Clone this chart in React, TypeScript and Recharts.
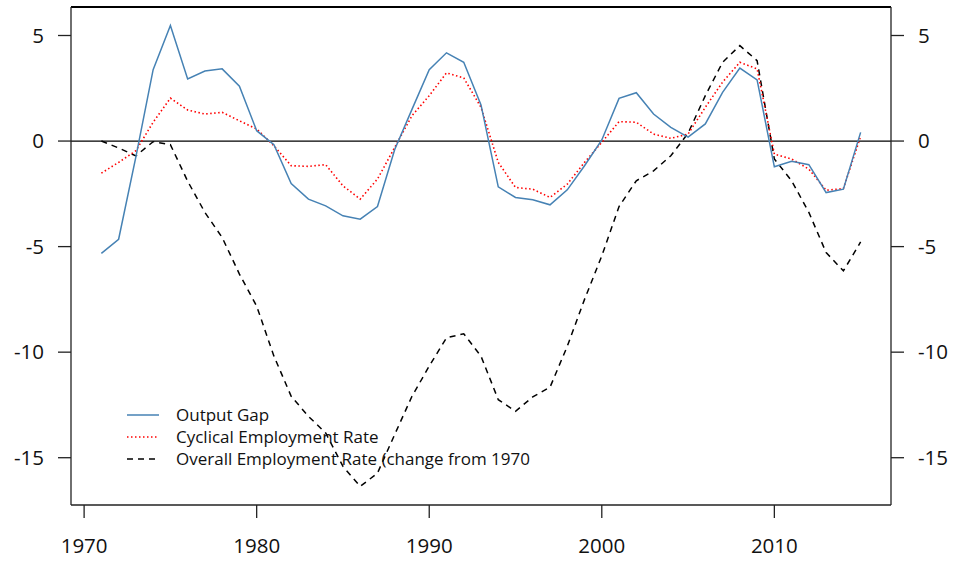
import React from 'react';
import { LineChart, Line, XAxis, YAxis, ReferenceLine, Legend } from 'recharts';

const years = [1971,1972,1973,1974,1975,1976,1977,1978,1979,1980,1981,1982,1983,1984,1985,1986,1987,1988,1989,1990,1991,1992,1993,1994,1995,1996,1997,1998,1999,2000,2001,2002,2003,2004,2005,2006,2007,2008,2009,2010,2011,2012,2013,2014,2015];

const outputGap = [-5.32,-4.65,-0.75,3.38,5.47,2.94,3.32,3.42,2.6,0.49,-0.17,-2.01,-2.75,-3.07,-3.54,-3.7,-3.1,-0.4,1.5,3.38,4.18,3.73,1.71,-2.17,-2.67,-2.78,-3.02,-2.31,-1.17,0.05,2.02,2.29,1.28,0.65,0.19,0.81,2.31,3.46,2.9,-1.22,-0.96,-1.12,-2.44,-2.28,0.41];

const cyclicalEmp = [-1.52,-1.01,-0.46,0.89,2.03,1.47,1.28,1.36,0.96,0.57,-0.22,-1.17,-1.2,-1.12,-2.12,-2.75,-1.8,-0.3,1.2,2.15,3.23,2.99,1.6,-1.01,-2.2,-2.28,-2.67,-2.04,-1.01,-0.06,0.92,0.89,0.33,0.13,0.33,1.6,2.79,3.73,3.42,-0.62,-0.85,-1.33,-2.33,-2.25,0.22];

const overallEmp = [0,-0.33,-0.7,-0.03,-0.17,-1.9,-3.38,-4.57,-6.3,-7.82,-10.19,-12.09,-13.04,-13.83,-15.41,-16.36,-15.73,-13.9,-12.09,-10.66,-9.32,-9.13,-10.19,-12.25,-12.8,-12.12,-11.66,-9.72,-7.5,-5.44,-3.1,-1.88,-1.41,-0.7,0.37,2.15,3.73,4.52,3.81,-0.85,-1.88,-3.38,-5.28,-6.15,-4.78];

const xTicks = [1970, 1980, 1990, 2000, 2010];
const yTicks = [-15, -10, -5, 0, 5];

const seriesNames = ['Output Gap', 'Cyclical Employment Rate', 'Overall Employment Rate (change from 1970'];

const data = years.map((y, i) => ({
  year: y,
  gap: outputGap[i],
  cyc: cyclicalEmp[i],
  ovr: overallEmp[i],
}));

const Y_MIN = -17.24;
const Y_MAX = 6.35;
const X_DOMAIN: [number, number] = [1969.24, 2016.76];

const FONT = '"Open Sans", "Noto Sans", sans-serif';
const AXIS = '#222';

const legendItems = [
  { name: seriesNames[0], color: 'steelblue', dash: undefined as string | undefined },
  { name: seriesNames[1], color: '#ff0000', dash: '1.5 2.5' },
  { name: seriesNames[2], color: '#000', dash: '6 5' },
];

const LegendContent = () => (
  <div style={{ fontFamily: FONT, fontSize: 17, color: '#111', lineHeight: '22px' }}>
    {legendItems.map((it) => (
      <div key={it.name} style={{ display: 'flex', alignItems: 'center', height: 22, whiteSpace: 'nowrap' }}>
        <svg width={49} height={22} style={{ display: 'block' }}>
          <line x1={0} y1={11} x2={32} y2={11} stroke={it.color} strokeWidth={1.5} strokeDasharray={it.dash} />
        </svg>
        <span>{it.name}</span>
      </div>
    ))}
  </div>
);

export default function App() {
  return (
    <div style={{ position: 'absolute', left: 0, top: 0, width: 956, height: 562, background: '#fff', fontFamily: FONT }}>
      <LineChart
        width={956}
        height={562}
        data={data}
        margin={{ top: 7, right: 0, bottom: 0, left: 0 }}
      >
        <XAxis
          dataKey="year"
          type="number"
          domain={X_DOMAIN}
          allowDataOverflow
          ticks={xTicks}
          interval={0}
          height={57}
          tickSize={13}
          tickMargin={20}
          axisLine={{ stroke: AXIS, strokeWidth: 1.3 }}
          tickLine={{ stroke: AXIS, strokeWidth: 1.3 }}
          tick={{ fill: '#111', fontSize: 20.5, fontFamily: FONT }}
        />
        <YAxis
          yAxisId="left"
          type="number"
          domain={[Y_MIN, Y_MAX]}
          allowDataOverflow
          ticks={yTicks}
          interval={0}
          width={71}
          tickSize={13}
          tickMargin={14}
          axisLine={{ stroke: AXIS, strokeWidth: 1.3 }}
          tickLine={{ stroke: AXIS, strokeWidth: 1.3 }}
          tick={{ fill: '#111', fontSize: 20.5, fontFamily: FONT }}
        />
        <YAxis
          yAxisId="right"
          orientation="right"
          type="number"
          domain={[Y_MIN, Y_MAX]}
          allowDataOverflow
          ticks={yTicks}
          interval={0}
          width={65}
          tickSize={13}
          tickMargin={14}
          axisLine={{ stroke: AXIS, strokeWidth: 1.3 }}
          tickLine={{ stroke: AXIS, strokeWidth: 1.3 }}
          tick={{ fill: '#111', fontSize: 20.5, fontFamily: FONT }}
        />
        <ReferenceLine yAxisId="left" y={Y_MAX} stroke="#000" strokeWidth={2.2} ifOverflow="extendDomain" />
        <ReferenceLine yAxisId="left" y={0} stroke="#000" strokeWidth={1.3} />
        <Line
          yAxisId="left"
          type="linear"
          dataKey="ovr"
          name={seriesNames[2]}
          stroke="#000"
          strokeWidth={1.5}
          strokeDasharray="6 5"
          dot={false}
          isAnimationActive={false}
        />
        <Line
          yAxisId="left"
          type="linear"
          dataKey="cyc"
          name={seriesNames[1]}
          stroke="#ff0000"
          strokeWidth={1.6}
          strokeDasharray="1.5 2.5"
          dot={false}
          isAnimationActive={false}
        />
        <Line
          yAxisId="left"
          type="linear"
          dataKey="gap"
          name={seriesNames[0]}
          stroke="steelblue"
          strokeWidth={1.5}
          dot={false}
          isAnimationActive={false}
        />
        <Legend
          layout="vertical"
          align="center"
          verticalAlign="middle"
          content={<LegendContent />}
          wrapperStyle={{ position: 'absolute', left: 127, top: 404, width: 'auto', height: 'auto' }}
        />
      </LineChart>
    </div>
  );
}
